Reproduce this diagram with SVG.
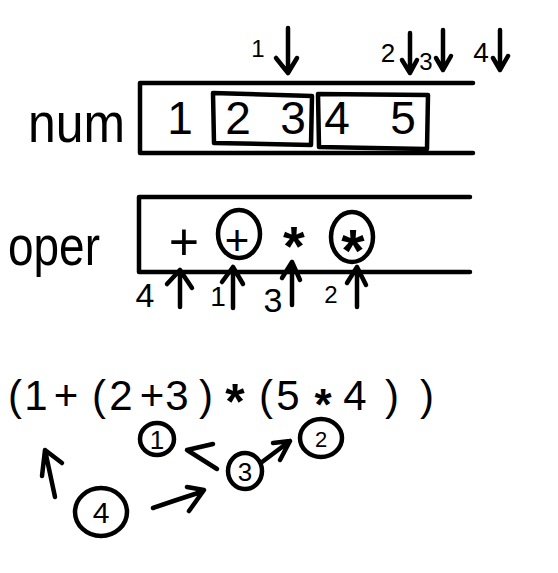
<svg xmlns="http://www.w3.org/2000/svg" width="558" height="573" viewBox="0 0 558 573">
<style>
  .ln { fill: none; stroke: #000; stroke-width: 4.5; stroke-linecap: round; stroke-linejoin: round; }
  .t { font-family: "Liberation Sans", Arial, sans-serif; fill: #000; text-anchor: middle; }
  .ast { font-weight: bold; }
  .lbl { font-family: "Liberation Sans", Arial, sans-serif; fill: #000; }
</style>
<rect width="558" height="573" fill="#fff"/>

<g id="num-array">
  <text class="lbl" x="28" y="142" font-size="56" textLength="97" lengthAdjust="spacingAndGlyphs">num</text>
  <path class="ln" d="M473 83 H140 V153 H473"/>
  <path class="ln" d="M213 93 L312 96 L311 145 L214 143 Z"/>
  <path class="ln" d="M318 94 L428 95 L427 149 L319 147 Z"/>
  <text class="t" font-size="46" y="134" x="180 238 293 337 403">12345</text>
</g>

<g id="num-pointers">
  <text class="t" font-size="24" x="258" y="57">1</text>
  <text class="t" font-size="26" x="388" y="62">2</text>
  <text class="t" font-size="24" x="426" y="70">3</text>
  <text class="t" font-size="28" x="481" y="62">4</text>
</g>

<g id="oper-array">
  <text class="lbl" x="8" y="265" font-size="56" textLength="92" lengthAdjust="spacingAndGlyphs">oper</text>
  <path class="ln" d="M470 197 H139 V272 H470"/>
  <text class="t" font-size="52" x="184" y="260">+</text>
  <ellipse class="ln" cx="239" cy="234" rx="21" ry="24"/>
  <text class="t" font-size="42" x="237" y="255">+</text>
  <text class="t ast" font-size="56" x="294" y="265">*</text>
  <ellipse class="ln" cx="352" cy="237" rx="21" ry="25"/>
  <text class="t ast" font-size="60" x="353" y="271">*</text>
</g>

<g id="oper-pointers">
  <text class="t" font-size="34" x="145" y="307">4</text>
  <text class="t" font-size="28" x="218" y="306">1</text>
  <text class="t" font-size="34" x="273" y="312">3</text>
  <text class="t" font-size="24" x="331" y="303">2</text>
</g>

<g id="expression">
  <text class="t" font-size="42" y="410" x="15 36 66 99 121 152 177 206">(1+(2+3)</text>
  <text class="t ast" font-size="50" x="235" y="419">*</text>
  <text class="t" font-size="42" y="410" x="266 288">(5</text>
  <text class="t ast" font-size="44" x="323" y="420">*</text>
  <text class="t" font-size="42" y="410" x="355 392 427">4))</text>
</g>

<g id="step1">
  <ellipse class="ln" cx="157" cy="439" rx="17" ry="16"/>
  <text class="t" font-size="26" x="157" y="449">1</text>
</g>
<g id="step2">
  <ellipse class="ln" cx="321" cy="438" rx="21" ry="19"/>
  <text class="t" font-size="22" x="321" y="447">2</text>
</g>
<g id="step3">
  <ellipse class="ln" cx="245" cy="471" rx="17" ry="18"/>
  <text class="t" font-size="26" x="245" y="481">3</text>
</g>
<g id="step4">
  <ellipse class="ln" cx="101" cy="512" rx="26" ry="24"/>
  <text class="t" font-size="30" x="101" y="523">4</text>
</g>

<g id="connectors">
  <path class="ln" d="M288 28 V73 M276 58 L288 73 L297 58"/>
  <path class="ln" d="M410 33 V73 M402 60 L410 73 L417 60"/>
  <path class="ln" d="M443 30 V70 M436 58 L443 70 L451 56"/>
  <path class="ln" d="M500 30 V70 M493 58 L500 70 L508 56"/>
  <path class="ln" d="M180 307 V270 M167 284 L180 270 L192 288"/>
  <path class="ln" d="M233 308 V267 M222 282 L233 267 L243 284"/>
  <path class="ln" d="M292 305 V262 M282 278 L292 262 L300 280"/>
  <path class="ln" d="M357 307 V267 M347 283 L357 267 L366 285"/>
  <path class="ln" d="M55 497 L45 450 M42 476 L45 450 L62 463"/>
  <path class="ln" d="M153 508 Q176 500 201 492 M187 487 L204 490 L189 511"/>
  <path class="ln" d="M217 469 L187 450 L213 444"/>
  <path class="ln" d="M262 462 L290 441 M273 443 L290 441 L280 460"/>
</g>
</svg>
